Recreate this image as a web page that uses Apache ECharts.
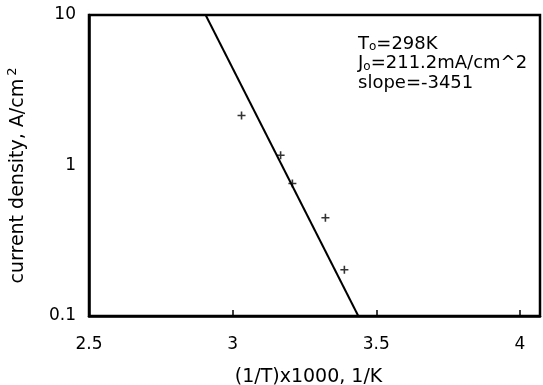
<!DOCTYPE html>
<html><head><meta charset="utf-8">
<script src="https://cdn.jsdelivr.net/npm/echarts@6/dist/echarts.min.js"></script>
<style>html,body{margin:0;padding:0;background:#fff}#c{width:543px;height:385px}</style>
</head><body><div id="c"></div>
<script>
const invT = [3.031, 3.167, 3.208, 3.323, 3.389];
const currentDensity = [2.15, 1.17, 0.76, 0.45, 0.203];
const fitX = [2.906, 3.4375];
const fitY = [10, 0.1];
const xTicks = [2.5, 3, 3.5, 4];
const annotations = ['T{s|o}=298K', 'J{s|o}=211.2mA/cm^2', 'slope=-3451'];

const chart = echarts.init(document.getElementById('c'), null, {renderer: 'canvas'});
const font = 'DejaVu Sans, sans-serif';
const plusPath = 'path://M4,0 L6,0 L6,4 L10,4 L10,6 L6,6 L6,10 L4,10 L4,6 L0,6 L0,4 L4,4 Z';
chart.setOption({
  animation: false,
  backgroundColor: '#fff',
  grid: {left: 89, top: 15, right: 3, bottom: 69, outerBoundsMode: 'none', containLabel: false,
    show: true, borderColor: '#000', borderWidth: 2.5, backgroundColor: 'transparent'},
  xAxis: {
    type: 'value', min: 2.5, max: 4.07, interval: 0.5,
    name: '(1/T)x1000, 1/K', nameLocation: 'middle', nameGap: 52,
    nameTextStyle: {fontFamily: font, fontSize: 19, color: '#000', padding: [0, 12, 0, 0]},
    axisLine: {lineStyle: {color: '#000', width: 2.5}},
    axisTick: {inside: true, length: 6, lineStyle: {color: '#000', width: 1.5}},
    axisLabel: {fontFamily: font, fontSize: 17, color: '#000', margin: 20, showMaxLabel: false,
      formatter: v => xTicks.includes(Math.round(v*100)/100) ? String(v) : ''},
    splitLine: {show: false}
  },
  yAxis: {
    type: 'log', logBase: 10, min: 0.1, max: 10,
    name: 'current density, A/cm{sup|2}', nameLocation: 'middle', nameGap: 58,
    nameTextStyle: {fontFamily: font, fontSize: 19, color: '#000', padding: [0, 20, 0, 0],
      rich: {sup: {fontFamily: font, fontSize: 13, color: '#000', verticalAlign: 'bottom', padding: [0,0,12,3]}}},
    axisLine: {lineStyle: {color: '#000', width: 2.5}},
    axisTick: {show: false},
    axisLabel: {fontFamily: font, fontSize: 17, color: '#000', margin: 13, formatter: v => String(v)},
    splitLine: {show: false}
  },
  series: [
    {type: 'line', data: fitX.map((x, i) => [x, fitY[i]]), symbol: 'none',
      lineStyle: {color: '#000', width: 2}, z: 3},
    {type: 'scatter', data: invT.map((x, i) => [x, currentDensity[i]]), symbol: plusPath, symbolSize: 8,
      itemStyle: {color: '#000'}, z: 4}
  ],
  graphic: annotations.map((t, i) => ({
    type: 'text', left: 358, top: 35 + i * 19.5,
    style: {text: t, fontFamily: font, fontSize: 18, fill: '#000',
      rich: {s: {fontFamily: font, fontSize: 12, fill: '#000', verticalAlign: 'bottom'}}}
  }))
});
</script></body></html>
